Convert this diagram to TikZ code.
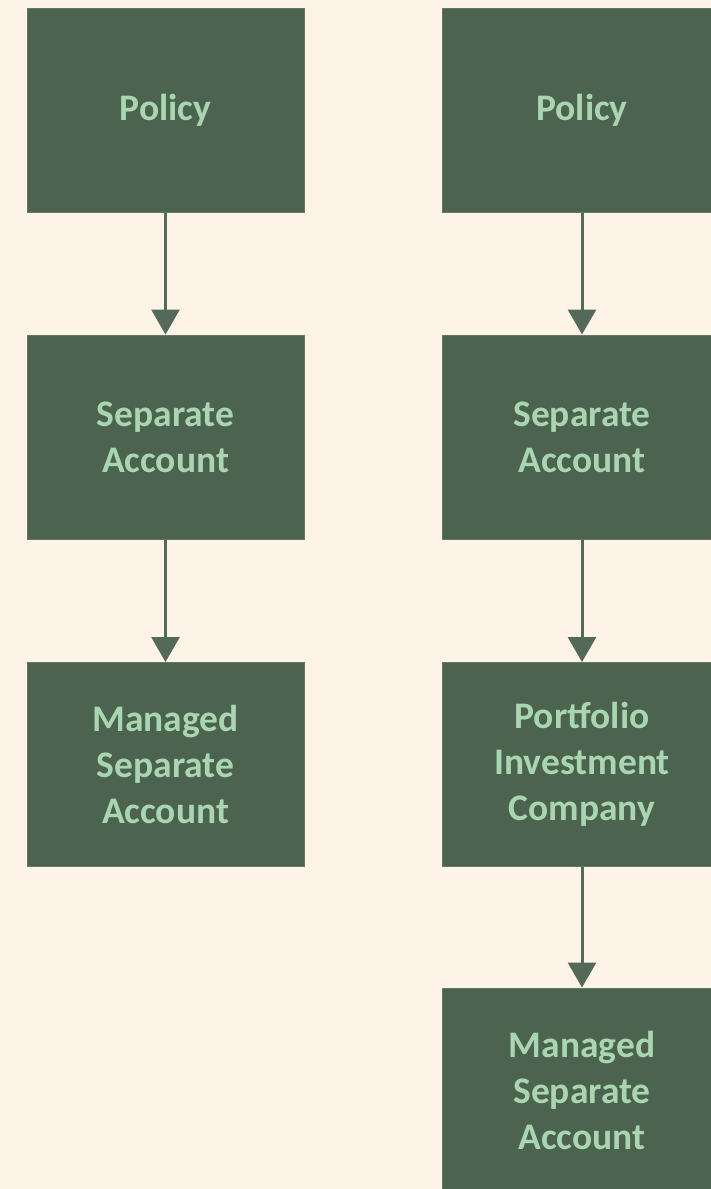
\documentclass[tikz,border=0pt]{standalone}
\usepackage{fontspec}
\setmainfont{Carlito}
\usetikzlibrary{arrows.meta}
\definecolor{bg}{HTML}{FDF3E6}
\definecolor{boxfill}{HTML}{4C6350}
\definecolor{boxline}{HTML}{62796A}
\definecolor{txt}{HTML}{A9D6B1}
\definecolor{arr}{HTML}{55695A}
\tikzset{
  box/.style={rectangle, fill=boxfill, draw=boxline, line width=1pt,
    minimum width=277pt, minimum height=204pt, inner sep=0pt,
    text=txt, align=center, font=\fontsize{37.5}{46}\selectfont\bfseries},
  conn/.style={draw=arr, line width=3pt,
    -{Triangle[width=28pt,length=25pt]}, shorten >=0pt}
}
\begin{document}
\begin{tikzpicture}[x=1pt,y=-1pt]
\fill[bg] (0,0) rectangle (711,1189);
\useasboundingbox (0,0) rectangle (711,1189);
\clip (0,0) rectangle (711,1189);
\node[box] (l1) at (165.5,110) {Policy};
\node[box] (l2) at (165.5,437) {Separate\\Account};
\node[box] (l3) at (165.5,764.5) {Managed\\Separate\\Account};
\node[box, minimum width=280pt] (r1) at (582,110) {Policy};
\node[box, minimum width=280pt] (r2) at (582,437) {Separate\\Account};
\node[box, minimum width=280pt] (r3) at (582,764.5) {Portfolio\\Investment\\Company};
\node[box, minimum width=280pt] (r4) at (582,1090) {Managed\\Separate\\Account};
\draw[conn] (l1) -- (l2);
\draw[conn] (l2) -- (l3);
\draw[conn] (r1) -- (r2);
\draw[conn] (r2) -- (r3);
\draw[conn] (r3) -- (r4);
\end{tikzpicture}
\end{document}
